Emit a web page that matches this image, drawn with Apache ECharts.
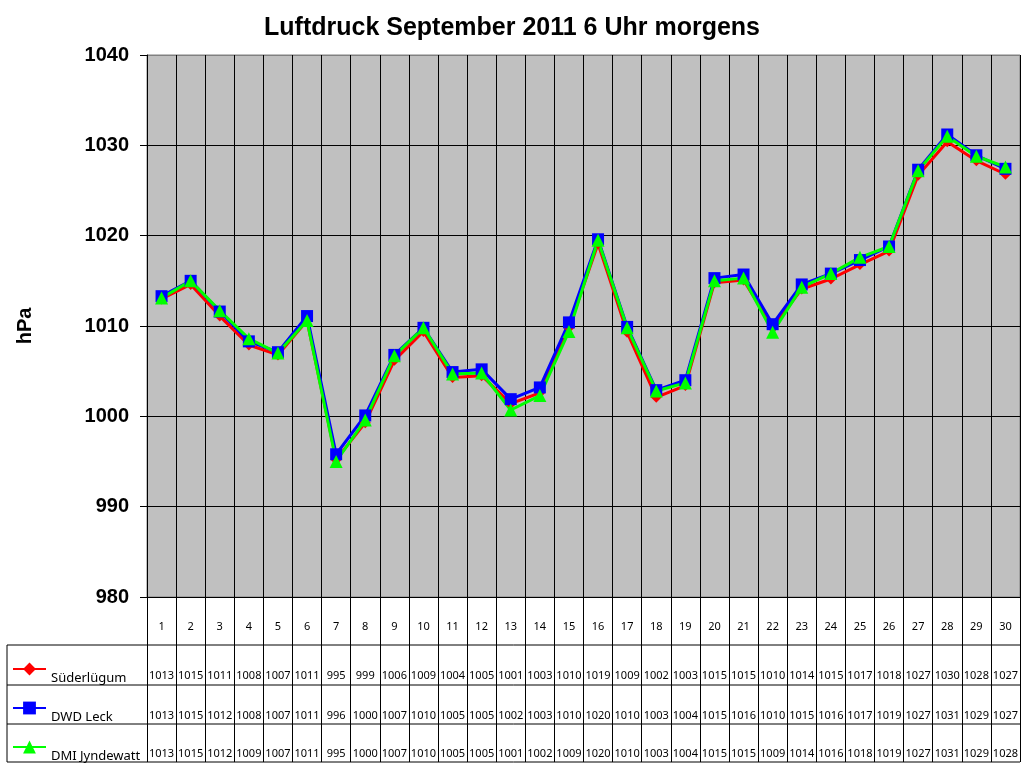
<!DOCTYPE html>
<html><head><meta charset="utf-8">
<script src="https://cdn.jsdelivr.net/npm/echarts@6/dist/echarts.min.js"></script>
<style>html,body{margin:0;padding:0;background:#fff}#c{width:1024px;height:768px}</style>
</head><body><div id="c"></div>
<script>
const days = ['1','2','3','4','5','6','7','8','9','10','11','12','13','14','15','16','17','18','19','20','21','22','23','24','25','26','27','28','29','30'];
const suederluegum = [1013.0,1014.6,1011.1,1007.9,1006.8,1010.6,995.2,999.3,1006.2,1009.4,1004.3,1004.5,1001.4,1002.6,1009.8,1019.1,1009.3,1002.1,1003.4,1014.8,1015.1,1009.8,1014.1,1015.2,1016.8,1018.3,1026.7,1030.4,1028.3,1026.8];
const dwdLeck = [1013.3,1015.0,1011.6,1008.3,1007.1,1011.1,995.8,1000.1,1006.8,1009.8,1004.9,1005.2,1001.9,1003.2,1010.4,1019.6,1009.9,1002.9,1004.0,1015.3,1015.7,1010.2,1014.6,1015.8,1017.3,1018.8,1027.3,1031.2,1028.9,1027.4];
const dmiJyndewatt = [1013.1,1015.0,1011.7,1008.6,1007.0,1010.6,995.0,999.6,1006.7,1009.8,1004.7,1004.8,1000.7,1002.3,1009.4,1019.5,1009.8,1002.8,1003.7,1015.0,1015.3,1009.3,1014.3,1015.8,1017.6,1018.8,1027.2,1031.0,1028.8,1027.6];
const seriesNames = ['Süderlügum','DWD Leck','DMI Jyndewatt'];
const yTicks = [980,990,1000,1010,1020,1030,1040];

const chart = echarts.init(document.getElementById('c'));
const tableFont = {fontFamily:'Noto Sans', fontSize:11, color:'#000'};
function rowAxis(arr, margin){
  return {type:'category', data:days, gridIndex:0, position:'bottom',
    axisLine:{show:false}, axisTick:{show:false}, splitLine:{show:false},
    axisLabel:Object.assign({interval:0, margin:margin, formatter:(v,i)=>String(Math.round(arr[i]))}, tableFont)};
}
const hLines = [645,685,724,762].map(y=>({type:'line', shape:{x1:7,y1:y,x2:1020,y2:y}, style:{stroke:'#000',lineWidth:1}, silent:true}));
hLines.push({type:'line', shape:{x1:7,y1:645,x2:7,y2:762}, style:{stroke:'#000',lineWidth:1}, silent:true});

chart.setOption({
  animation:false,
  title:{text:'Luftdruck September 2011 6 Uhr morgens', left:'center', top:11,
    textStyle:{fontFamily:'Liberation Sans', fontWeight:'bold', fontSize:25, color:'#000'}},
  grid:{left:147, right:4, top:55, bottom:171, show:true, backgroundColor:'#C0C0C0', borderColor:'#808080', borderWidth:1},
  legend:{orient:'vertical', left:12, top:651, padding:0, itemWidth:33, itemHeight:16, itemGap:3,
    formatter:n=>'\n'+n,
    textStyle:{fontFamily:'Noto Sans', fontSize:13, lineHeight:18, color:'#000'},
    data:seriesNames},
  xAxis:[
    {type:'category', data:days, boundaryGap:true,
      axisLine:{show:true, lineStyle:{color:'#000', width:1}},
      axisTick:{show:true, interval:0, length:165, inside:false, lineStyle:{color:'#000', width:1}},
      splitLine:{show:true, interval:0, lineStyle:{color:'#000', width:1}},
      axisLabel:Object.assign({interval:0, margin:24}, tableFont)},
    rowAxis(suederluegum, 73),
    rowAxis(dwdLeck, 113),
    rowAxis(dmiJyndewatt, 151)
  ],
  yAxis:{type:'value', min:980, max:1040, interval:10,
    name:'hPa', nameLocation:'middle', nameGap:112,
    nameTextStyle:{fontFamily:'Liberation Sans', fontWeight:'bold', fontSize:20, color:'#000'},
    axisLine:{show:true, lineStyle:{color:'#000', width:1}},
    axisTick:{show:true, length:7, lineStyle:{color:'#000'}},
    splitLine:{show:true, lineStyle:{color:['#000','#000','#000','#000','#000','#000','#808080'], width:1}},
    axisLabel:{fontFamily:'Liberation Sans', fontWeight:'bold', fontSize:20, color:'#000', margin:18,
      formatter:v=>yTicks.includes(v)?String(v):''}},
  series:[
    {name:seriesNames[0], type:'line', data:suederluegum, symbol:'diamond', symbolSize:11,
      itemStyle:{color:'#FF0000'}, lineStyle:{color:'#FF0000', width:3}},
    {name:seriesNames[1], type:'line', data:dwdLeck, symbol:'rect', symbolSize:12,
      itemStyle:{color:'#0000FF'}, lineStyle:{color:'#0000FF', width:3}},
    {name:seriesNames[2], type:'line', data:dmiJyndewatt, symbol:'triangle', symbolSize:13,
      itemStyle:{color:'#00FF00'}, lineStyle:{color:'#00FF00', width:3}}
  ],
  graphic:hLines
});
</script></body></html>
